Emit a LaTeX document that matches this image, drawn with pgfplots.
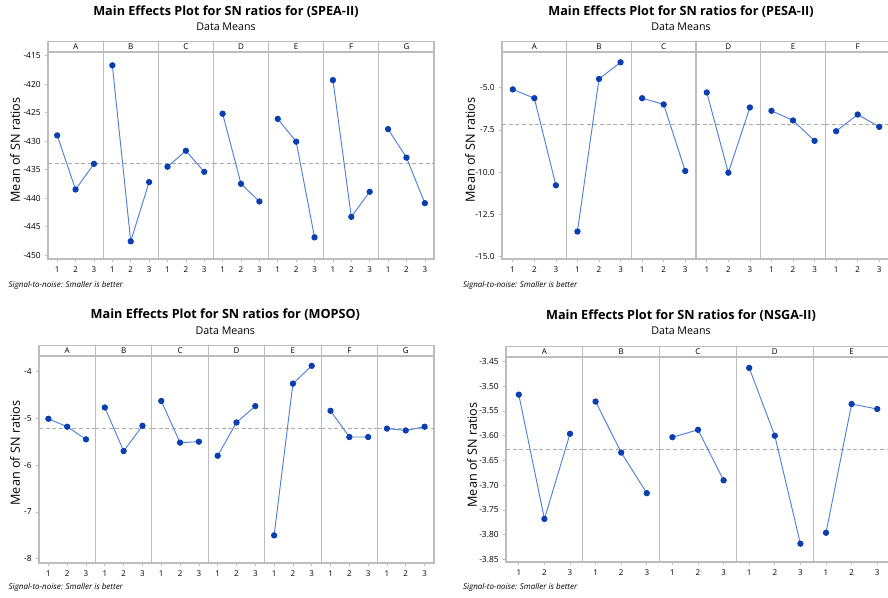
\documentclass[border=0pt]{standalone}
\usepackage{fontspec}
\setmainfont{Open Sans}
\usepackage{pgfplots}
\pgfplotsset{compat=1.18}
\definecolor{LineBlue}{HTML}{4F7FD9}
\definecolor{DotBlue}{HTML}{0B3FB0}
\definecolor{FrameGray}{HTML}{BDBDBD}

\pgfplotsset{
 facet/.style={scale only axis, anchor=south west,
  xmin=0.5, xmax=3.5, xtick={1,2,3}, ytick=\empty,
  xtick pos=left, ytick pos=left, tick align=outside, major tick length=2pt,
  axis line style={FrameGray, line width=0.8pt},
  tick style={FrameGray, line width=0.5pt},
  ticklabel style={font=\fontsize{6}{7}\selectfont, text=black},
  yticklabel style={font=\fontsize{6.3}{7}\selectfont},
  clip=false, /pgf/number format/assume math mode=true},
 p1/.style={ymin=-450.7, ymax=-414.36},
 y1/.style={ytick={-450,-445,-440,-435,-430,-425,-420,-415}},
 p2/.style={ymin=-15.16, ymax=-2.88},
 y2/.style={ytick={-15,-12.5,-10,-7.5,-5}, yticklabel style={/pgf/number format/.cd, fixed, fixed zerofill, precision=1}},
 p3/.style={ymin=-8.09, ymax=-3.67},
 y3/.style={ytick={-8,-7,-6,-5,-4}},
 p4/.style={ymin=-3.855, ymax=-3.441},
 y4/.style={ytick={-3.85,-3.80,-3.75,-3.70,-3.65,-3.60,-3.55,-3.50,-3.45}, yticklabel style={/pgf/number format/.cd, fixed, fixed zerofill, precision=2}},
}

% #1 x, #2 y of lower left, #3 width, #4 height, #5 styles, #6 letter, #7 mean, #8 points
\newcommand{\facet}[8]{%
\begin{axis}[facet, at={(#1,#2)}, width=#3, height=#4, #5]
\addplot[dash pattern=on 3pt off 2pt, gray!65, line width=0.6pt] coordinates {(0.5,#7) (3.5,#7)};
\addplot[LineBlue, line width=0.7pt, mark=*, mark size=2pt, mark options={fill=DotBlue, draw=DotBlue}] coordinates {#8};
\draw[FrameGray, line width=0.8pt] (rel axis cs:0,1) rectangle ([yshift=7.8pt]rel axis cs:1,1);
\node[font=\fontsize{6}{7}\selectfont] at ([yshift=3.9pt]rel axis cs:0.5,1) {#6};
\end{axis}}

\newcommand{\ttl}[1]{{\fontsize{9.5}{11}\selectfont\bfseries #1}}
\newcommand{\sub}{{\fontsize{8}{9}\selectfont Data Means}}
\newcommand{\ylab}{{\fontsize{9.5}{11}\selectfont Mean of SN ratios}}
\newcommand{\foot}{{\fontsize{6}{7}\selectfont\itshape Signal-to-noise: Smaller is better}}

\begin{document}
\begin{tikzpicture}
\path[use as bounding box] (0,0) rectangle (666pt,-448.5pt);

% SPEA-II
\node at (169.5pt,-9pt) {\ttl{Main Effects Plot for SN ratios for (SPEA-II)}};
\node at (169.5pt,-20.25pt) {\sub};
\node[rotate=90] at (11.25pt,-112.5pt) {\ylab};
\node[anchor=west] at (3pt,-213.75pt) {\foot};
\facet{36pt}{-194.25pt}{41.36pt}{155.25pt}{p1,y1}{A}{-433.9}{(1,-429.0)(2,-438.5)(3,-434.0)}
\facet{77.36pt}{-194.25pt}{41.36pt}{155.25pt}{p1}{B}{-433.9}{(1,-416.7)(2,-447.6)(3,-437.2)}
\facet{118.72pt}{-194.25pt}{41.36pt}{155.25pt}{p1}{C}{-433.9}{(1,-434.5)(2,-431.7)(3,-435.4)}
\facet{160.08pt}{-194.25pt}{41.36pt}{155.25pt}{p1}{D}{-433.9}{(1,-425.2)(2,-437.5)(3,-440.6)}
\facet{201.44pt}{-194.25pt}{41.36pt}{155.25pt}{p1}{E}{-433.9}{(1,-426.1)(2,-430.1)(3,-446.9)}
\facet{242.80pt}{-194.25pt}{41.36pt}{155.25pt}{p1}{F}{-433.9}{(1,-419.3)(2,-443.3)(3,-438.9)}
\facet{284.16pt}{-194.25pt}{41.36pt}{155.25pt}{p1}{G}{-433.9}{(1,-427.9)(2,-432.9)(3,-440.9)}

% PESA-II
\node at (510.75pt,-9pt) {\ttl{Main Effects Plot for SN ratios for (PESA-II)}};
\node at (510.75pt,-20.25pt) {\sub};
\node[rotate=90] at (352.5pt,-112.5pt) {\ylab};
\node[anchor=west] at (343.75pt,-213.75pt) {\foot};
\facet{376.5pt}{-194.25pt}{48.5pt}{155.25pt}{p2,y2}{A}{-7.16}{(1,-5.10)(2,-5.62)(3,-10.79)}
\facet{425pt}{-194.25pt}{48.5pt}{155.25pt}{p2}{B}{-7.16}{(1,-13.53)(2,-4.48)(3,-3.49)}
\facet{473.5pt}{-194.25pt}{48.5pt}{155.25pt}{p2}{C}{-7.16}{(1,-5.62)(2,-5.99)(3,-9.94)}
\facet{522pt}{-194.25pt}{48.5pt}{155.25pt}{p2}{D}{-7.16}{(1,-5.28)(2,-10.04)(3,-6.17)}
\facet{570.5pt}{-194.25pt}{48.5pt}{155.25pt}{p2}{E}{-7.16}{(1,-6.37)(2,-6.94)(3,-8.15)}
\facet{619pt}{-194.25pt}{48.5pt}{155.25pt}{p2}{F}{-7.16}{(1,-7.58)(2,-6.59)(3,-7.32)}

% MOPSO
\node at (169pt,-236.25pt) {\ttl{Main Effects Plot for SN ratios for (MOPSO)}};
\node at (169pt,-248.25pt) {\sub};
\node[rotate=90] at (11.25pt,-339.75pt) {\ylab};
\node[anchor=west] at (3pt,-440.25pt) {\foot};
\facet{29.25pt}{-422.25pt}{42.32pt}{155.25pt}{p3,y3}{A}{-5.21}{(1,-5.01)(2,-5.18)(3,-5.45)}
\facet{71.57pt}{-422.25pt}{42.32pt}{155.25pt}{p3}{B}{-5.21}{(1,-4.77)(2,-5.70)(3,-5.16)}
\facet{113.89pt}{-422.25pt}{42.32pt}{155.25pt}{p3}{C}{-5.21}{(1,-4.63)(2,-5.52)(3,-5.50)}
\facet{156.21pt}{-422.25pt}{42.32pt}{155.25pt}{p3}{D}{-5.21}{(1,-5.80)(2,-5.09)(3,-4.74)}
\facet{198.53pt}{-422.25pt}{42.32pt}{155.25pt}{p3}{E}{-5.21}{(1,-7.50)(2,-4.26)(3,-3.88)}
\facet{240.85pt}{-422.25pt}{42.32pt}{155.25pt}{p3}{F}{-5.21}{(1,-4.84)(2,-5.40)(3,-5.40)}
\facet{283.17pt}{-422.25pt}{42.32pt}{155.25pt}{p3}{G}{-5.21}{(1,-5.22)(2,-5.26)(3,-5.18)}

% NSGA-II
\node at (510.75pt,-237pt) {\ttl{Main Effects Plot for SN ratios for (NSGA-II)}};
\node at (510.75pt,-248.25pt) {\sub};
\node[rotate=90] at (354pt,-341.25pt) {\ylab};
\node[anchor=west] at (343.75pt,-440.25pt) {\foot};
\facet{379.5pt}{-421.5pt}{57.6pt}{153.75pt}{p4,y4}{A}{-3.628}{(1,-3.517)(2,-3.768)(3,-3.596)}
\facet{437.1pt}{-421.5pt}{57.6pt}{153.75pt}{p4}{B}{-3.628}{(1,-3.531)(2,-3.634)(3,-3.716)}
\facet{494.7pt}{-421.5pt}{57.6pt}{153.75pt}{p4}{C}{-3.628}{(1,-3.603)(2,-3.588)(3,-3.690)}
\facet{552.3pt}{-421.5pt}{57.6pt}{153.75pt}{p4}{D}{-3.628}{(1,-3.463)(2,-3.600)(3,-3.818)}
\facet{609.9pt}{-421.5pt}{57.6pt}{153.75pt}{p4}{E}{-3.628}{(1,-3.796)(2,-3.536)(3,-3.546)}
\end{tikzpicture}
\end{document}
